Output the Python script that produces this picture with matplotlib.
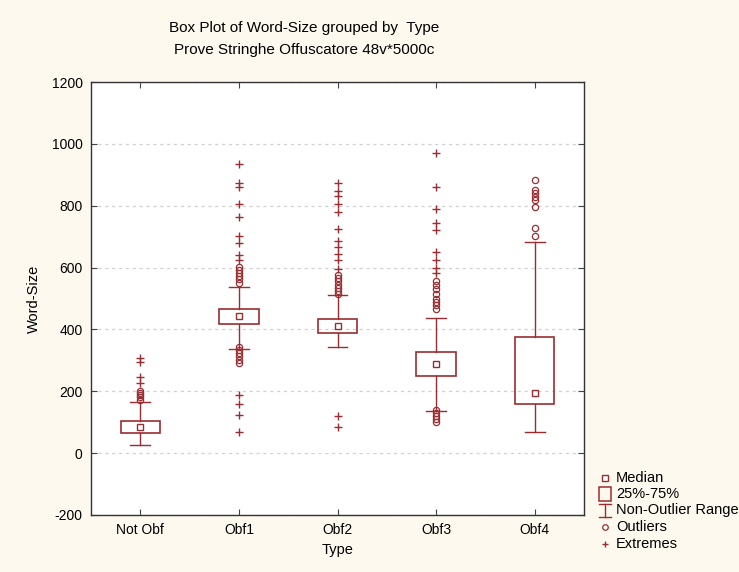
import numpy as np
import matplotlib.pyplot as plt
from matplotlib.lines import Line2D
from matplotlib.patches import Rectangle

plt.rcParams['font.family'] = ['Liberation Sans', 'DejaVu Sans']
plt.rcParams['axes.unicode_minus'] = False

# data
types = ['Not Obf', 'Obf1', 'Obf2', 'Obf3', 'Obf4']
medians = [83, 443, 410, 289, 195]
q1 = [64, 416, 387, 251, 158]
q3 = [104, 467, 435, 328, 374]
whisk_lo = [25, 338, 342, 137, 69]
whisk_hi = [164, 537, 512, 438, 683]
outliers = [
    [202, 195, 188, 180, 173],
    [602, 592, 582, 572, 562, 550, 344, 335, 325, 313, 300, 292],
    [575, 565, 555, 545, 535, 525, 515],
    [558, 545, 530, 515, 500, 490, 478, 465, 139, 130, 120, 110, 100],
    [883, 850, 840, 829, 818, 797, 728, 702],
]
extremes = [
    [309, 295, 245, 227],
    [935, 875, 861, 807, 764, 703, 678, 642, 623, 188, 158, 123, 67],
    [874, 848, 831, 807, 780, 726, 686, 665, 643, 624, 594, 120, 83],
    [969, 859, 788, 743, 721, 649, 624, 599, 581],
    [],
]
yticks = [-200, 0, 200, 400, 600, 800, 1000, 1200]
legend_labels = ['Median', '25%-75%', 'Non-Outlier Range', 'Outliers', 'Extremes']

red = '#9B2D30'
bg = '#FEF9EE'

fig = plt.figure(figsize=(7.39, 5.72), dpi=100, facecolor=bg)
ax = fig.add_axes([91 / 739, 1 - 515 / 572, 493 / 739, 433 / 572])
ax.set_facecolor('white')

bw = 0.4
cw = 0.2
for i in range(len(types)):
    ax.plot([i, i], [whisk_lo[i], q1[i]], color=red, lw=1)
    ax.plot([i, i], [q3[i], whisk_hi[i]], color=red, lw=1)
    ax.plot([i - cw / 2, i + cw / 2], [whisk_lo[i]] * 2, color=red, lw=1)
    ax.plot([i - cw / 2, i + cw / 2], [whisk_hi[i]] * 2, color=red, lw=1)
    ax.add_patch(Rectangle((i - bw / 2, q1[i]), bw, q3[i] - q1[i],
                           fill=False, edgecolor=red, lw=1.2, zorder=3))
    ax.plot(i, medians[i], 's', ms=5, mfc='white', mec=red, mew=1, zorder=4)
    if outliers[i]:
        ax.plot([i] * len(outliers[i]), outliers[i], 'o', ms=4.5, mfc='none',
                mec=red, mew=0.9, zorder=4)
    if extremes[i]:
        ax.plot([i] * len(extremes[i]), extremes[i], '+', ms=5.5, color=red,
                mew=1, zorder=4)

ax.set_xlim(-0.5, 4.5)
ax.set_ylim(-200, 1200)
ax.set_xticks(range(len(types)))
ax.set_xticklabels(types, fontsize=10.5)
ax.set_yticks(yticks)
ax.yaxis.grid(True, ls=(0, (2.5, 3)), color='#D0D0D0', lw=0.9)
ax.set_axisbelow(True)
ax.tick_params(direction='in', length=4, top=True, right=True,
               labelsize=10, color='#444444', pad=6)
for s in ax.spines.values():
    s.set_color('#333333')
    s.set_linewidth(1)

ax.set_ylabel('Word-Size', fontsize=10.5, labelpad=8)
ax.set_xlabel('Type', fontsize=10.5, labelpad=4)

fig.text(304 / 739, 1 - 28 / 572, 'Box Plot of Word-Size grouped by  Type',
         ha='center', va='center', fontsize=11)
fig.text(304 / 739, 1 - 50 / 572, 'Prove Stringhe Offuscatore 48v*5000c',
         ha='center', va='center', fontsize=11)

# legend drawn by hand in figure pixels
lx, tx = 605, 616
rows = [478, 494, 510, 527, 544]
def fy(y):
    return 1 - y / 572
fig.add_artist(Line2D([lx / 739], [fy(rows[0])], ls='none', marker='s', ms=5,
                      mfc='white', mec=red, mew=1))
fig.add_artist(Rectangle(((lx - 6) / 739, fy(rows[1] + 7)), 12 / 739, 14 / 572,
                         fill=False, edgecolor=red, lw=1.1))
fig.add_artist(Line2D([lx / 739, lx / 739], [fy(rows[2] - 6), fy(rows[2] + 7)],
                      color=red, lw=1))
fig.add_artist(Line2D([(lx - 6) / 739, (lx + 6) / 739], [fy(rows[2] - 6)] * 2,
                      color=red, lw=1))
fig.add_artist(Line2D([(lx - 6) / 739, (lx + 6) / 739], [fy(rows[2] + 7)] * 2,
                      color=red, lw=1))
fig.add_artist(Line2D([lx / 739], [fy(rows[3])], ls='none', marker='o', ms=4,
                      mfc='none', mec=red, mew=0.9))
fig.add_artist(Line2D([lx / 739], [fy(rows[4])], ls='none', marker='+', ms=5,
                      color=red, mew=1))
for lab, y in zip(legend_labels, rows):
    fig.text(tx / 739, fy(y), lab, ha='left', va='center', fontsize=10.5)

fig.savefig('out.png', dpi=100, facecolor=bg)
